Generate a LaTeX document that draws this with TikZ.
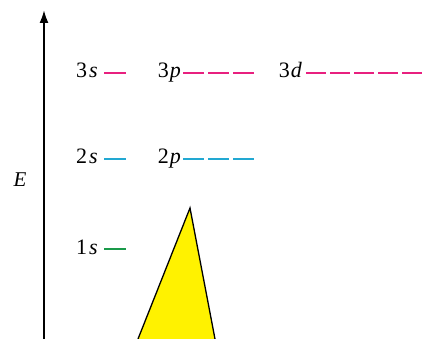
\documentclass[tikz,border=0pt]{standalone}
\usepackage{fontspec}
\setmainfont{Liberation Serif}
\usetikzlibrary{arrows.meta, positioning, calc}
\definecolor{lvlmag}{HTML}{E8207F}
\definecolor{lvlcyan}{HTML}{22A8D2}
\definecolor{lvlgreen}{HTML}{1A9A4A}

\begin{document}
\begin{tikzpicture}[
    x=1pt, y=-1pt,
    lbl/.style={font=\rmfamily\fontsize{22}{22}\selectfont, inner sep=0pt,
                anchor=base east},
    lvl/.style={line width=2.6pt},
    axis/.style={-{Latex[length=13pt, width=9pt]}, line width=2pt}
  ]
  \useasboundingbox (0,0) rectangle (425,339);
  % energy axis
  \coordinate (ax0) at (44,339);
  \coordinate (ax1) at (44,10);
  \draw[axis] (ax0) -- (ax1);
  \node[font=\rmfamily\fontsize{21}{21}\selectfont, inner sep=0pt] (E) at (20,180) {\textit{E}};
  % n = 3
  \node[lbl] (s3) at (98,78)  {3\kern2pt\textit{s}};
  \node[lbl] (p3) at (181,78) {3\kern1pt\textit{p}};
  \node[lbl] (d3) at (302,78) {3\kern1pt\textit{d}};
  \draw[lvl, lvlmag] ($(s3.base east)+(6,-5)$) -- ++(22,0);
  \foreach \i in {0,1,2}
    \draw[lvl, lvlmag] ($(p3.base east)+(2+\i*25,-5)$) -- ++(21,0);
  \foreach \i in {0,...,4}
    \draw[lvl, lvlmag] ($(d3.base east)+(4+\i*24,-5)$) -- ++(20,0);
  % n = 2
  \node[lbl] (s2) at (98,164)  {2\kern2pt\textit{s}};
  \node[lbl] (p2) at (181,164) {2\kern1pt\textit{p}};
  \draw[lvl, lvlcyan] ($(s2.base east)+(6,-5)$) -- ++(22,0);
  \foreach \i in {0,1,2}
    \draw[lvl, lvlcyan] ($(p2.base east)+(2+\i*25,-5)$) -- ++(21,0);
  % n = 1
  \node[lbl] (s1) at (98,254) {1\kern2pt\textit{s}};
  \draw[lvl, lvlgreen] ($(s1.base east)+(6,-5)$) -- ++(22,0);
  % yellow wedge
  \coordinate (wl) at (138,339);
  \coordinate (wt) at (190,208);
  \coordinate (wr) at (215,339);
  \fill[yellow] (wl) -- (wt) -- (wr) -- cycle;
  \draw[line width=1.3pt, line join=miter] (wl) -- (wt) -- (wr);
\end{tikzpicture}
\end{document}
